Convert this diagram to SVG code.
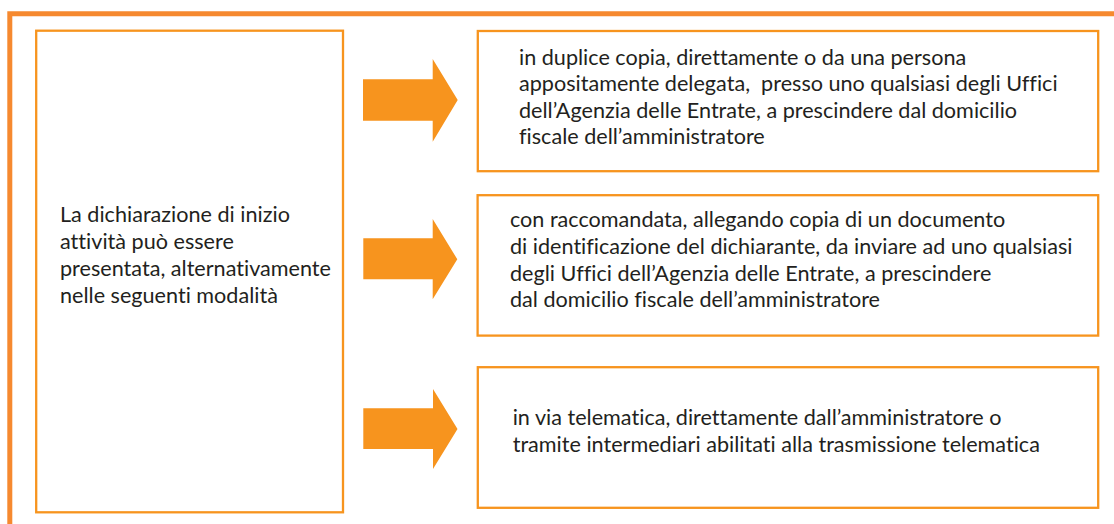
<svg xmlns="http://www.w3.org/2000/svg" width="1114" height="524" viewBox="0 0 1114 524">
<style>
.frame{fill:none;stroke:#f6892f;stroke-width:5}
.box{fill:#ffffff;stroke:#f7941e;stroke-width:2.3}
.arrow{fill:#f7941e}
.t{font-family:Lato,"Liberation Sans",sans-serif;font-size:21.6px;fill:#231f20;font-variant-ligatures:none}
</style>
<rect width="1114" height="524" fill="#ffffff"/>
<path class="frame" d="M9.8 524 V13.7 H1114"/>
<g id="source">
<rect class="box" x="36.2" y="30.7" width="306.8" height="481.6"/>
<text class="t"><tspan x="60" y="222.3">La dichiarazione di inizio</tspan><tspan x="60" y="249">attività può essere</tspan><tspan x="60" y="276">presentata, alternativamente</tspan><tspan x="60" y="302.7">nelle seguenti modalità</tspan></text>
</g>
<g id="connectors">
<path class="arrow" d="M363,79.3 H432.7 V59 L457.7,100 L432.7,141.7 V120.7 H363 Z"/>
<path class="arrow" d="M363.3,238.3 H432.7 V219 L457.3,259.3 L432.7,299.3 V279.3 H363.3 Z"/>
<path class="arrow" d="M363.3,408.3 H433 V389 L457.5,429 L433,469 V449 H363.3 Z"/>
</g>
<g id="mode1">
<rect class="box" x="477.8" y="31" width="620.4" height="140.2"/>
<text class="t"><tspan x="519" y="65">in duplice copia, direttamente o da una persona</tspan><tspan x="519" y="91.4">appositamente delegata,&#160; presso uno qualsiasi degli Uffici</tspan><tspan x="519" y="117.6">dell’Agenzia delle Entrate, a prescindere dal domicilio</tspan><tspan x="519" y="144">fiscale dell’amministratore</tspan></text>
</g>
<g id="mode2">
<rect class="box" x="477.6" y="195.2" width="620.6" height="140.4"/>
<text class="t"><tspan x="510" y="227.3">con raccomandata, allegando copia di un documento</tspan><tspan x="510" y="254">di identificazione del dichiarante, da inviare ad uno qualsiasi</tspan><tspan x="510" y="280.5">degli Uffici dell’Agenzia delle Entrate, a prescindere</tspan><tspan x="510" y="307">dal domicilio fiscale dell’amministratore</tspan></text>
</g>
<g id="mode3">
<rect class="box" x="477.8" y="367.2" width="620.4" height="140.6"/>
<text class="t"><tspan x="512.7" y="425">in via telematica, direttamente dall’amministratore o</tspan><tspan x="512.7" y="451.6">tramite intermediari abilitati alla trasmissione telematica</tspan></text>
</g>
</svg>
